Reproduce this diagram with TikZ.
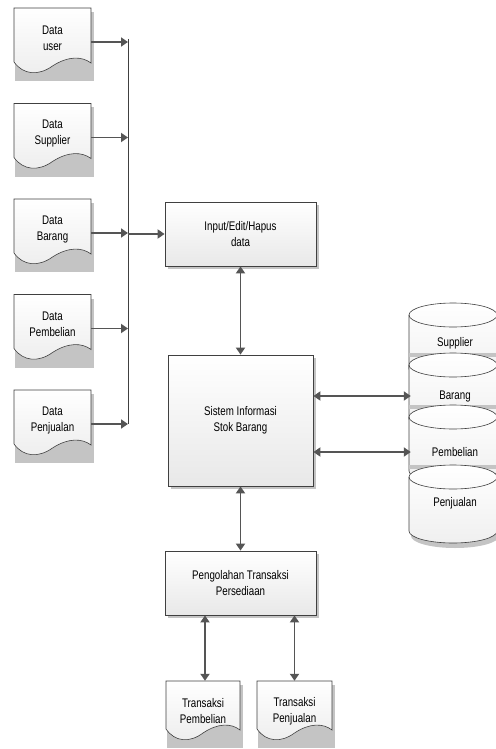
\documentclass[tikz,border=0pt]{standalone}
\usepackage{fontspec}
\setmainfont{Liberation Sans}[FakeStretch=0.78]
\usetikzlibrary{arrows.meta,shadows}
\definecolor{linec}{HTML}{404040}
\definecolor{arrc}{HTML}{555555}
\definecolor{shad}{HTML}{C4C4C4}
\tikzset{
 txt/.style={font=\fontsize{12.5}{16}\selectfont, align=center, text=black},
 boxnode/.style={txt, draw=linec, line width=0.8pt, top color=white, bottom color=gray!18, inner sep=0pt,
   drop shadow={shadow xshift=3pt, shadow yshift=-3pt, fill=shad, opacity=1}},
 arr/.style={draw=arrc, line width=1.8pt, -{Triangle[length=7pt,width=9pt]}},
 darr/.style={draw=arrc, line width=1.8pt, {Triangle[length=7pt,width=9pt]}-{Triangle[length=7pt,width=9pt]}},
 busline/.style={draw=linec, line width=1pt},
 docfill/.style={draw=linec, line width=0.6pt, top color=white, bottom color=gray!14},
 cylfill/.style={top color=white, bottom color=gray!12},
 cylline/.style={draw=linec, line width=0.6pt},
}
% #1 x0, #2 top, #3 width, #4 height, #5 name, #6 text
\newcommand\docshape[6]{%
 \fill[shad] (#1+1,-#2-4) rectangle (#1+#3+3,-#2-#4-19);
 \path[docfill] (#1,-#2) -- (#1+#3,-#2) -- (#1+#3,-#2-#4-1)
   .. controls (#1+0.88*#3,-#2-#4+6) and (#1+0.70*#3,-#2-#4+6) .. (#1+0.5*#3,-#2-#4-4)
   .. controls (#1+0.32*#3,-#2-#4-14) and (#1+0.12*#3,-#2-#4-13) .. (#1,-#2-#4) -- cycle;
 \node[txt, minimum width=#3, minimum height=60, inner sep=0pt] (#5) at (#1+0.5*#3,-#2-30) {#6};
}
% #1 top, #2 name, #3 label, #4 label y
\newcommand\cylshape[4]{%
 \fill[shad] (411,-#1-17) -- (411,-#1-71) arc[start angle=180,end angle=360,x radius=44,y radius=12] -- (499,-#1-17) -- cycle;
 \path[cylfill] (409,-#1-12) -- (409,-#1-66) arc[start angle=180,end angle=360,x radius=44,y radius=12]
   -- (497,-#1-12) arc[start angle=0,end angle=180,x radius=44,y radius=12] -- cycle;
 \draw[cylline] (409,-#1-12) -- (409,-#1-66) arc[start angle=180,end angle=360,x radius=44,y radius=12] -- (497,-#1-12);
 \draw[cylline] (453,-#1-12) ellipse[x radius=44, y radius=12];
 \node[txt, minimum width=88, inner sep=0pt] (#2) at (455,-#4) {#3};
}
\begin{document}
\begin{tikzpicture}[x=1pt,y=1pt]
\useasboundingbox (0,0) rectangle (495,-749);

% left documents
\docshape{14}{8}{77}{54}{du}{Data\\user}
\docshape{14}{103.5}{77}{54}{ds}{Data\\Supplier}
\docshape{14}{199}{77}{54}{db}{Data\\Barang}
\docshape{14}{294.5}{77}{54}{dp}{Data\\Pembelian}
\docshape{14}{390}{77}{54}{dj}{Data\\Penjualan}

% bus
\coordinate (busT) at (128,-39);
\coordinate (busB) at (128,-424);
\draw[busline] (busT) -- (busB);
\foreach \d in {du,ds,db,dp,dj}{
  \draw[arr] ([yshift=-4pt]\d.east) -- ([yshift=-4pt]\d.east -| busT);
}

% boxes
\node[boxnode, minimum width=151, minimum height=64] (inp) at (240.5,-234) {Input/Edit/Hapus\\data};
\node[boxnode, minimum width=145, minimum height=131] (sis) at (240.5,-420.5) {Sistem Informasi\\Stok Barang};
\node[boxnode, minimum width=151, minimum height=64] (peng) at (240.5,-583) {Pengolahan Transaksi\\Persediaan};

\draw[arr] (inp.west -| busT) -- (inp.west);
\draw[darr] (inp.south) -- (sis.north);
\draw[darr] (sis.south) -- (peng.north);

% cylinders
\cylshape{303}{csup}{Supplier}{343}
\fill[shad] (409,-353) rectangle (497,-357);
\cylshape{353}{cbar}{Barang}{396}
\fill[shad] (409,-405) rectangle (497,-409);
\cylshape{405}{cpem}{Pembelian}{452}
\fill[shad] (409,-465) rectangle (497,-469);
\cylshape{465}{cpen}{Penjualan}{503}

\draw[darr] (sis.east |- cbar.west) -- (cbar.west);
\draw[darr] (sis.east |- cpem.west) -- (cpem.west);

% bottom documents
\docshape{166}{681}{74}{48}{tp}{Transaksi\\Pembelian}
\docshape{257}{681}{75}{48}{tj}{Transaksi\\Penjualan}
\draw[darr] ([xshift=2pt]peng.south -| tp.north) -- ([xshift=2pt]tp.north);
\draw[darr] (peng.south -| tj.north) -- (tj.north);
\end{tikzpicture}
\end{document}
